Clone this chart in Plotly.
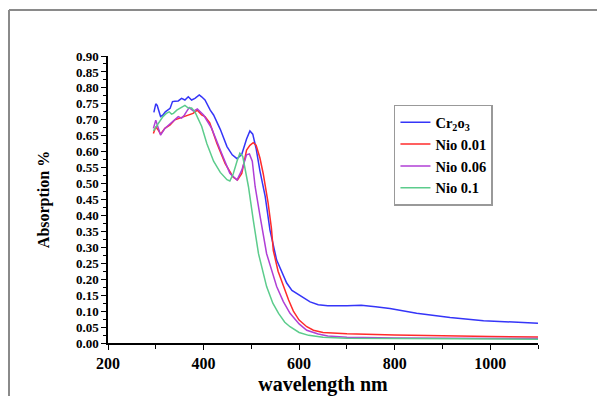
import plotly.graph_objects as go

# ---- data ----
cr_x = [296, 300, 303, 310, 315, 320, 330, 335, 340, 347, 354, 361, 368, 375, 382, 391, 396, 403, 414, 421,
        435, 449, 460, 470, 480, 490, 497, 503, 510, 518, 529, 539, 553, 564, 574, 585, 595, 610, 623, 640,
        660, 700, 730, 760, 790, 846, 916, 986, 1050, 1100]
cr_y = [0.723, 0.750, 0.745, 0.710, 0.715, 0.725, 0.736, 0.757, 0.758, 0.759, 0.767, 0.762, 0.772, 0.762, 0.767,
        0.778, 0.772, 0.762, 0.730, 0.715, 0.670, 0.616, 0.590, 0.578, 0.592, 0.640, 0.665, 0.655, 0.610, 0.540,
        0.460, 0.354, 0.260, 0.220, 0.188, 0.165, 0.155, 0.140, 0.129, 0.120, 0.117, 0.117, 0.118, 0.114, 0.108,
        0.093, 0.080, 0.070, 0.066, 0.062]

n01_x = [295, 300, 305, 310, 319, 330, 340, 350, 361, 371, 378, 387, 396, 403, 413, 428, 445, 462, 471, 480,
         490, 497, 504, 510, 518, 525, 535, 542, 546, 556, 567, 578, 588, 600, 616, 630, 650, 680, 700, 800,
         900, 1000, 1100]
n01_y = [0.657, 0.678, 0.668, 0.655, 0.673, 0.684, 0.700, 0.705, 0.710, 0.715, 0.720, 0.730, 0.715, 0.710, 0.690,
         0.626, 0.563, 0.520, 0.511, 0.532, 0.605, 0.620, 0.628, 0.620, 0.580, 0.530, 0.440, 0.360, 0.290, 0.225,
         0.177, 0.135, 0.100, 0.072, 0.051, 0.040, 0.033, 0.030, 0.029, 0.025, 0.022, 0.020, 0.019]

n06_x = [295, 300, 305, 310, 319, 328, 337, 347, 354, 360, 365, 370, 379, 387, 400, 417, 435, 455, 470, 480,
         490, 496, 502, 508, 518, 532, 553, 567, 581, 600, 616, 640, 660, 700, 800, 900, 1000, 1100]
n06_y = [0.673, 0.699, 0.675, 0.652, 0.673, 0.685, 0.694, 0.710, 0.705, 0.715, 0.727, 0.738, 0.727, 0.734, 0.715,
         0.673, 0.605, 0.532, 0.511, 0.542, 0.590, 0.593, 0.570, 0.490, 0.400, 0.280, 0.177, 0.130, 0.093, 0.060,
         0.040, 0.028, 0.022, 0.018, 0.016, 0.015, 0.015, 0.014]

n1_x = [295, 302, 308, 315, 322, 328, 333, 337, 344, 354, 361, 368, 375, 382, 389, 396, 407, 421, 435, 449,
        455, 462, 470, 476, 482, 487, 494, 504, 515, 532, 545, 557, 570, 581, 600, 620, 650, 700, 800, 900,
        1000, 1100]
n1_y = [0.665, 0.680, 0.695, 0.710, 0.720, 0.725, 0.718, 0.720, 0.730, 0.740, 0.745, 0.737, 0.737, 0.725, 0.705,
        0.680, 0.625, 0.570, 0.535, 0.512, 0.508, 0.530, 0.570, 0.595, 0.585, 0.550, 0.490, 0.386, 0.280, 0.177,
        0.125, 0.093, 0.065, 0.051, 0.033, 0.024, 0.018, 0.015, 0.014, 0.013, 0.013, 0.012]

series = [
    ("Cr<sub>2</sub>o<sub>3</sub>", cr_x, cr_y, "#3535f8"),
    ("Nio 0.01", n01_x, n01_y, "#ff2b2b"),
    ("Nio 0.06", n06_x, n06_y, "#b03fd6"),
    ("Nio 0.1", n1_x, n1_y, "#5ccc8c"),
]

y_ticks = [round(i * 0.05, 2) for i in range(19)]
y_labels = [f"{v:.2f}" for v in y_ticks]
x_ticks = [200, 400, 600, 800, 1000]
x_labels = [str(v) for v in x_ticks]

FONT = "Liberation Serif"

# page has an 8px body margin; keep the figure small enough that no scrollbar appears
W, H = 597, 388
ML, MT, PW, PH = 100, 48, 430, 287

fig = go.Figure()
for name, xs, ys, col in series:
    fig.add_trace(go.Scatter(x=xs, y=ys, mode="lines", name=f"<b>{name}</b>",
                             line=dict(color=col, width=1.5)))

fig.update_layout(
    width=W, height=H,
    margin=dict(l=ML, r=W - ML - PW, t=MT, b=H - MT - PH, autoexpand=False),
    paper_bgcolor="white", plot_bgcolor="white",
    font=dict(family=FONT, color="black"),
    showlegend=True,
    legend=dict(x=0.665, y=0.83, xanchor="left", yanchor="top",
                bordercolor="#999999", borderwidth=1.5, bgcolor="white",
                font=dict(family=FONT, size=14.5, color="black"),
                tracegroupgap=0),
    xaxis=dict(range=[200, 1100], showgrid=False, zeroline=False, automargin=False,
               showline=True, linecolor="black", linewidth=1.5,
               ticks="outside", ticklen=5, tickwidth=1.2, tickcolor="black",
               tickvals=x_ticks, ticktext=[f"<b>{t}</b>" for t in x_labels],
               minor=dict(dtick=100, tick0=200, ticks="outside", ticklen=4, tickwidth=1.2, tickcolor="black"),
               tickfont=dict(family=FONT, size=16, color="black"),
               title=dict(text="<b>wavelength nm</b>", font=dict(family=FONT, size=20, color="black"), standoff=8)),
    yaxis=dict(range=[0, 0.9], showgrid=False, zeroline=False, automargin=False,
               showline=True, linecolor="black", linewidth=1.5,
               ticks="outside", ticklen=5, tickwidth=1.2, tickcolor="black",
               tickvals=y_ticks, ticktext=[f"<b>{t}</b>" for t in y_labels],
               minor=dict(dtick=0.025, tick0=0, ticks="outside", ticklen=3, tickwidth=1, tickcolor="black"),
               tickfont=dict(family=FONT, size=13, color="black"),
               title=dict(text="<b>Absorption %</b>", font=dict(family=FONT, size=16, color="black"), standoff=22)),
)

# outer frame of the figure: only its top and left edges fall inside the window
fx0 = (1 - ML) / PW
fy1 = (MT + PH - 2) / PH
fig.add_shape(type="line", xref="paper", yref="paper", x0=fx0, x1=(W - ML) / PW, y0=fy1, y1=fy1,
              line=dict(color="#8a8a8a", width=2), layer="below")
fig.add_shape(type="line", xref="paper", yref="paper", x0=fx0, x1=fx0, y0=(MT + PH - H) / PH, y1=fy1,
              line=dict(color="#8a8a8a", width=2), layer="below")

fig.write_html("out.html")
